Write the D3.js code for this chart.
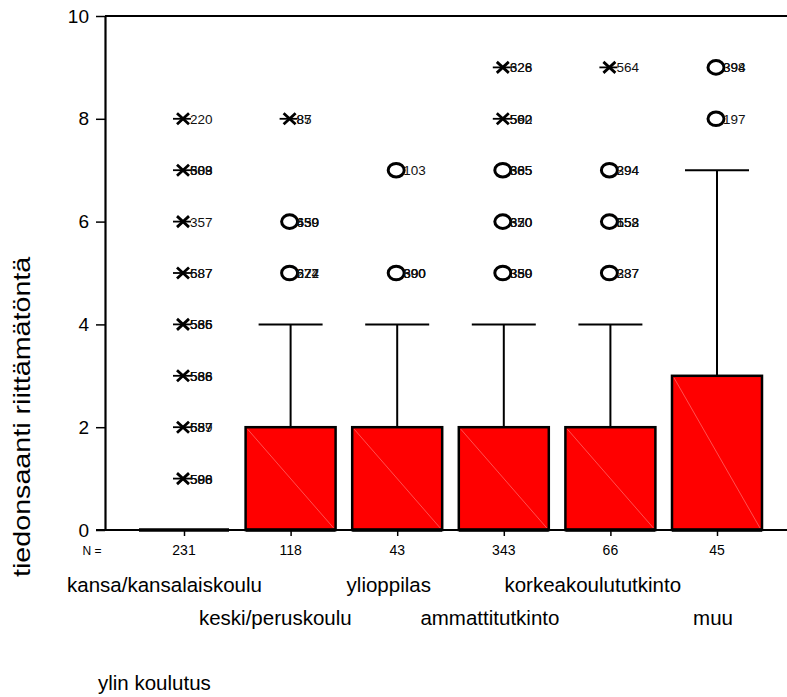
<!DOCTYPE html>
<html>
<head>
<meta charset="utf-8">
<script src="https://cdn.jsdelivr.net/npm/d3@7"></script>
<style>
  body { margin: 0; background: #fff; }
  svg { display: block; font-family: "Liberation Sans", Arial, sans-serif; }
</style>
</head>
<body>
<div id="chart"></div>
<script>
// categories and summary stats
var categories = ["kansa/kansalaiskoulu", "keski/peruskoulu", "ylioppilas", "ammattitutkinto", "korkeakoulututkinto", "muu"];
var counts = [231, 118, 43, 343, 66, 45];
var q1 = [0, 0, 0, 0, 0, 0];
var median = [0, 0, 0, 0, 0, 0];
var q3 = [0, 2, 2, 2, 2, 3];
var whiskerLow = [0, 0, 0, 0, 0, 0];
var whiskerHigh = [0, 4, 4, 4, 4, 7];
var yTicks = [0, 2, 4, 6, 8, 10];

// outliers: o = outlier, x = extreme; ids are the overlapping case labels
var outliers = [
  {cat: 0, value: 8, type: "x", ids: ["220"]},
  {cat: 0, value: 7, type: "x", ids: ["388", "509", "603"]},
  {cat: 0, value: 6, type: "x", ids: ["357"]},
  {cat: 0, value: 5, type: "x", ids: ["587", "687"]},
  {cat: 0, value: 4, type: "x", ids: ["535", "566", "586"]},
  {cat: 0, value: 3, type: "x", ids: ["588", "536", "566"]},
  {cat: 0, value: 2, type: "x", ids: ["557", "687", "589"]},
  {cat: 0, value: 1, type: "x", ids: ["588", "500", "596"]},
  {cat: 1, value: 8, type: "x", ids: ["85", "87"]},
  {cat: 1, value: 6, type: "o", ids: ["459", "650", "639"]},
  {cat: 1, value: 5, type: "o", ids: ["622", "274", "677"]},
  {cat: 2, value: 7, type: "o", ids: ["103"]},
  {cat: 2, value: 5, type: "o", ids: ["300", "690", "390"]},
  {cat: 3, value: 9, type: "x", ids: ["326", "628"]},
  {cat: 3, value: 8, type: "x", ids: ["560", "502", "592"]},
  {cat: 3, value: 7, type: "o", ids: ["365", "605", "385"]},
  {cat: 3, value: 6, type: "o", ids: ["370", "650", "320"]},
  {cat: 3, value: 5, type: "o", ids: ["350", "380", "359"]},
  {cat: 4, value: 9, type: "x", ids: ["564"]},
  {cat: 4, value: 7, type: "o", ids: ["294", "394"]},
  {cat: 4, value: 6, type: "o", ids: ["552", "158", "653"]},
  {cat: 4, value: 5, type: "o", ids: ["287", "337"]},
  {cat: 5, value: 9, type: "o", ids: ["398", "394"]},
  {cat: 5, value: 8, type: "o", ids: ["197"]}
];

var width = 787, height = 697;
var svg = d3.select("#chart").append("svg")
  .attr("width", width).attr("height", height);

var x = d3.scalePoint().domain(d3.range(categories.length)).range([184, 717]);
var y = d3.scaleLinear().domain([0, 10]).range([530, 16]);
var boxW = 90, capW = 64;

// top frame line
svg.append("line").attr("x1", 105).attr("x2", width).attr("y1", y(10)).attr("y2", y(10))
  .attr("stroke", "#000").attr("stroke-width", 2);

// y axis
var yAxis = svg.append("g").attr("transform", "translate(105,0)")
  .call(d3.axisLeft(y).tickValues(yTicks).tickSize(9).tickSizeOuter(0).tickPadding(7));
yAxis.select(".domain").attr("stroke-width", 2.2);
yAxis.selectAll(".tick line").attr("stroke-width", 1.5);
yAxis.selectAll(".tick text").attr("font-size", 19).attr("font-family", "Liberation Sans, Arial");

// boxes
var g = svg.append("g");
var idx = d3.range(categories.length);

g.selectAll(".whisker").data(idx).enter().append("line")
  .attr("x1", function(i){ return x(i); }).attr("x2", function(i){ return x(i); })
  .attr("y1", function(i){ return y(q3[i]); }).attr("y2", function(i){ return y(whiskerHigh[i]); })
  .attr("stroke", "#000").attr("stroke-width", 2);

g.selectAll(".cap").data(idx.filter(function(i){ return whiskerHigh[i] > q3[i]; })).enter().append("line")
  .attr("x1", function(i){ return x(i) - capW / 2; }).attr("x2", function(i){ return x(i) + capW / 2; })
  .attr("y1", function(i){ return y(whiskerHigh[i]); }).attr("y2", function(i){ return y(whiskerHigh[i]); })
  .attr("stroke", "#000").attr("stroke-width", 2);

g.selectAll(".box").data(idx.filter(function(i){ return q3[i] > q1[i]; })).enter().append("rect")
  .attr("x", function(i){ return x(i) - boxW / 2; })
  .attr("width", boxW)
  .attr("y", function(i){ return y(q3[i]); })
  .attr("height", function(i){ return y(q1[i]) - y(q3[i]); })
  .attr("fill", "#ff0000").attr("stroke", "#000").attr("stroke-width", 2.5);

// faint seam across the fill
g.selectAll(".seam").data(idx.filter(function(i){ return q3[i] > q1[i]; })).enter().append("line")
  .attr("x1", function(i){ return x(i) - boxW / 2 + 2; }).attr("x2", function(i){ return x(i) + boxW / 2 - 2; })
  .attr("y1", function(i){ return y(q3[i]) + 2; }).attr("y2", function(i){ return y(q1[i]) - 2; })
  .attr("stroke", "#ffa0a0").attr("stroke-width", 0.5);

// x axis line and ticks
svg.append("line").attr("x1", 96).attr("x2", width).attr("y1", y(0)).attr("y2", y(0))
  .attr("stroke", "#000").attr("stroke-width", 2);
svg.append("g").attr("transform", "translate(0," + y(0) + ")")
  .call(d3.axisBottom(x).tickSize(6).tickFormat(""))
  .call(function(s){ s.select(".domain").remove(); })
  .selectAll(".tick line").attr("stroke-width", 1.5);

// median / collapsed boxes
g.selectAll(".median").data(idx).enter().append("line")
  .attr("x1", function(i){ return x(i) - boxW / 2; }).attr("x2", function(i){ return x(i) + boxW / 2; })
  .attr("y1", function(i){ return y(median[i]); }).attr("y2", function(i){ return y(median[i]); })
  .attr("stroke", "#000").attr("stroke-width", 3.5);

// outlier markers
var out = svg.append("g");
outliers.forEach(function(d) {
  var cx = x(d.cat) - 1, cy = y(d.value);
  if (d.type === "x") {
    out.append("line").attr("x1", cx - 10).attr("x2", cx + 8).attr("y1", cy).attr("y2", cy)
      .attr("stroke", "#000").attr("stroke-width", 1.8);
    out.append("path").attr("d", "M" + (cx - 6) + "," + (cy - 5.5) + "L" + (cx + 6) + "," + (cy + 5.5) +
        "M" + (cx - 6) + "," + (cy + 5.5) + "L" + (cx + 6) + "," + (cy - 5.5))
      .attr("stroke", "#000").attr("stroke-width", 2.8);
  } else {
    out.append("ellipse").attr("cx", cx).attr("cy", cy).attr("rx", 8).attr("ry", 6.8)
      .attr("fill", "none").attr("stroke", "#000").attr("stroke-width", 3);
  }
  d.ids.forEach(function(id) {
    out.append("text").attr("x", cx + 7).attr("y", cy + 5)
      .attr("font-size", 13.5).attr("fill", "#111").text(id);
  });
});

// N row
svg.append("text").attr("x", 92).attr("y", 555).attr("text-anchor", "middle")
  .attr("font-size", 12).text("N =");
svg.selectAll(".n").data(idx).enter().append("text")
  .attr("x", function(i){ return x(i); }).attr("y", 555)
  .attr("text-anchor", "middle").attr("font-size", 14)
  .text(function(i){ return counts[i]; });

// category labels in two staggered rows
svg.selectAll(".cat").data(idx).enter().append("text")
  .attr("x", function(i){ return x(i); })
  .attr("y", function(i){ return i % 2 === 0 ? 592 : 625; })
  .attr("text-anchor", "middle").attr("font-size", 20.5)
  .text(function(i){ return categories[i]; })
  .attr("dx", function(){ return -0.1 * this.getComputedTextLength(); });

// axis titles
svg.append("text").attr("x", 98).attr("y", 690).attr("font-size", 20.5).text("ylin koulutus");
svg.append("text").attr("transform", "translate(30,577) rotate(-90) scale(1.22,1)")
  .attr("font-size", 23.5).text("tiedonsaanti riittämätöntä");
</script>
</body>
</html>
